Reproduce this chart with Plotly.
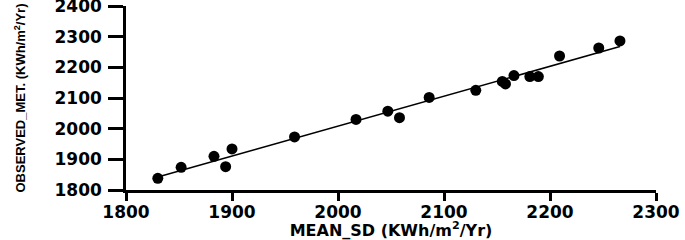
import numpy as np
import plotly.graph_objects as go

mean_sd = [1830, 1852, 1883, 1894, 1900, 1959, 2017, 2047, 2058, 2086,
           2130, 2155, 2158, 2166, 2181, 2189, 2209, 2246, 2266]
observed_met = [1838, 1874, 1910, 1876, 1934, 1973, 2030, 2057, 2036, 2102,
                2125, 2154, 2146, 2173, 2170, 2170, 2237, 2263, 2286]
x_ticks = [1800, 1900, 2000, 2100, 2200, 2300]
y_ticks = [1800, 1900, 2000, 2100, 2200, 2300, 2400]

slope, intercept = np.polyfit(mean_sd, observed_met, 1)
fit_x = [min(mean_sd), max(mean_sd)]
fit_y = [slope * v + intercept for v in fit_x]

fig = go.Figure()
fig.add_trace(go.Scatter(x=fit_x, y=fit_y, mode="lines",
                         line=dict(color="black", width=1.5), showlegend=False))
fig.add_trace(go.Scatter(x=mean_sd, y=observed_met, mode="markers",
                         marker=dict(color="black", size=11), showlegend=False))

tickfont = dict(family="DejaVu Sans", size=17, color="black", weight="bold")
fig.update_layout(
    width=685, height=240,
    margin=dict(l=126, r=29, t=6, b=50, autoexpand=False),
    plot_bgcolor="white", paper_bgcolor="white",
    xaxis=dict(range=[1800, 2300], tickvals=x_ticks, ticktext=[str(v) for v in x_ticks],
               showgrid=False, zeroline=False, showline=True, linecolor="black", linewidth=2.5,
               ticks="outside", ticklen=8, tickwidth=2.5, tickcolor="black",
               tickfont=tickfont, ticklabelstandoff=-3, ticklabeloverflow="allow",
               automargin=False,
               title=dict(text="MEAN_SD (KWh/m<sup>2</sup>/Yr)", standoff=4,
                          font=dict(family="DejaVu Sans", size=16, color="black", weight="bold"))),
    yaxis=dict(range=[1800, 2400], tickvals=y_ticks, ticktext=[str(v) for v in y_ticks],
               showgrid=False, zeroline=False, showline=True, linecolor="black", linewidth=2.5,
               ticks="outside", ticklen=15, tickwidth=2.5, tickcolor="black",
               tickfont=tickfont, ticklabelstandoff=3, ticklabeloverflow="allow",
               automargin=False,
               title=dict(text="OBSERVED_MET. (KWh/m<sup>2</sup>/Yr)", standoff=26,
                          font=dict(family="Liberation Sans", size=13, color="black", weight="bold"))),
)
fig.write_html("out.html", config={"displayModeBar": False},
               post_script="document.body.style.margin='0';document.body.style.overflow='hidden';")
